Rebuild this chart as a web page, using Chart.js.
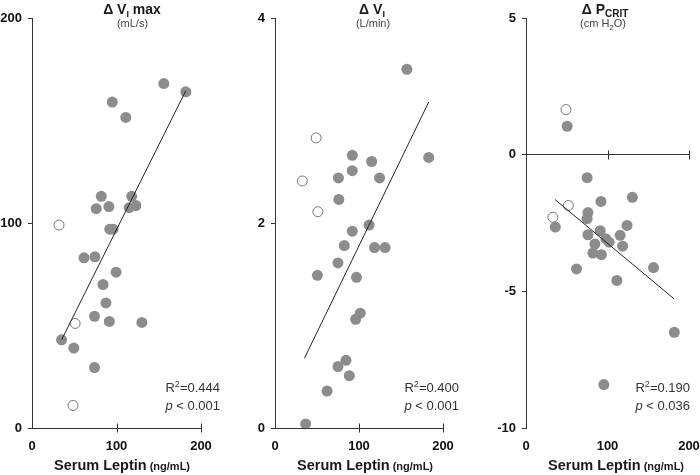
<!DOCTYPE html>
<html>
<head>
<meta charset="utf-8">
<script src="https://cdn.jsdelivr.net/npm/chart.js@4.4.0/dist/chart.umd.min.js"></script>
<style>
  body { margin: 0; background: #fff; }
  #wrap { position: relative; width: 700px; height: 475px; }
  canvas { position: absolute; top: 0; }
</style>
</head>
<body>
<div id="wrap">
  <canvas id="flowMax" width="230" height="475" style="left:0"></canvas>
  <canvas id="flowVol" width="230" height="475" style="left:230px"></canvas>
  <canvas id="pcrit" width="240" height="475" style="left:460px"></canvas>
</div>
<script>
// serum leptin (ng/mL) on every x axis
const leptinTicks = [0, 100, 200];

// panel 1: delta VI max (mL/s)
const vmaxTicks = [0, 100, 200];
const vmaxX = [156, 182, 95, 111, 82, 118, 76, 91, 115, 123, 92, 96, 61.5, 74.5, 99.5, 84, 87.5, 74, 91.5, 130, 35, 49.5, 74];
const vmaxY = [168, 164, 159, 151.5, 113, 113, 107, 108, 107.5, 108.5, 97, 97, 83, 83.5, 76, 70, 61, 54.5, 52, 51.5, 43, 39, 29.5];
const vmaxOpenX = [32, 51, 48.5];
const vmaxOpenY = [99, 51, 11];
const vmaxFitX = [35, 182];
const vmaxFitY = [43, 164.5];

// panel 2: delta VI (L/min)
const viTicks = [0, 2, 4];
const viX = [157, 183, 92, 115, 92, 75.5, 124.5, 76, 112, 92, 82.5, 118.5, 131, 75, 50.5, 97, 101.5, 96, 84.5, 75, 88.5, 62, 36.5];
const viY = [3.50, 2.64, 2.66, 2.60, 2.51, 2.44, 2.44, 2.23, 1.98, 1.92, 1.78, 1.76, 1.76, 1.61, 1.49, 1.47, 1.12, 1.06, 0.66, 0.60, 0.51, 0.36, 0.04];
const viOpenX = [49, 32.5, 51];
const viOpenY = [2.83, 2.41, 2.11];
const viFitX = [35, 183];
const viFitY = [0.68, 3.18];

// panel 3: delta Pcrit (cm H2O)
const pcritTicks = [-10, -5, 0, 5];
const pcritX = [50.5, 75, 130.5, 92, 76, 75, 36, 124, 91, 76, 115.5, 98, 102, 84.5, 118.5, 82, 92.5, 62, 156.5, 111.5, 182, 95.5];
const pcritY = [1.04, -0.84, -1.56, -1.71, -2.12, -2.34, -2.65, -2.59, -2.78, -2.93, -2.95, -3.08, -3.20, -3.27, -3.35, -3.60, -3.66, -4.18, -4.13, -4.60, -6.50, -8.41];
const pcritOpenX = [49, 52, 33];
const pcritOpenY = [1.65, -1.86, -2.29];
const pcritFitX = [35.5, 181.5];
const pcritFitY = [-1.64, -5.27];

const FONT = '"Liberation Sans", Arial, sans-serif';
Chart.defaults.font.family = FONT;
Chart.defaults.color = '#111';

function pts(xs, ys) {
  return xs.map((x, i) => ({ x: x, y: ys[i] }));
}

function drawRuns(ctx, runs, x, y, align) {
  let total = 0;
  runs.forEach(r => { ctx.font = r.f; r.w = ctx.measureText(r.t).width; total += r.w; });
  let cx = align === 'center' ? x - total / 2 : align === 'right' ? x - total : x;
  ctx.textAlign = 'left';
  ctx.textBaseline = 'alphabetic';
  runs.forEach(r => {
    ctx.font = r.f;
    ctx.fillText(r.t, cx, y + (r.dy || 0));
    cx += r.w;
  });
}

const panelText = {
  id: 'panelText',
  afterDraw(chart, args, o) {
    const ctx = chart.ctx;
    const area = chart.chartArea;
    const xs = chart.scales.x, ys = chart.scales.y;
    ctx.save();
    // crossing tick marks on the zero line
    const y0 = Math.round(ys.getPixelForValue(0)) + 0.5;
    ctx.strokeStyle = '#333';
    ctx.lineWidth = 1;
    leptinTicks.slice(1).forEach(v => {
      const px = Math.round(xs.getPixelForValue(v)) + 0.5;
      ctx.beginPath();
      ctx.moveTo(px, y0 - 5);
      ctx.lineTo(px, y0 + 4);
      ctx.stroke();
    });
    ctx.fillStyle = '#1a1a1a';
    drawRuns(ctx, o.title, o.titleX, 14, 'center');
    ctx.fillStyle = '#444';
    drawRuns(ctx, o.unit, o.unitX, 27, 'center');
    ctx.fillStyle = '#1a1a1a';
    drawRuns(ctx, [
      { t: 'Serum Leptin', f: 'bold 14.5px ' + FONT },
      { t: ' (ng/mL)', f: 'bold 11px ' + FONT }
    ], area.left + 22, 470, 'left');
    ctx.fillStyle = '#333';
    drawRuns(ctx, [
      { t: 'R', f: '13px ' + FONT },
      { t: '2', f: '9px ' + FONT, dy: -5 },
      { t: '=' + o.r2, f: '13px ' + FONT }
    ], o.statX, 392, 'right');
    drawRuns(ctx, [
      { t: 'p', f: 'italic 13px ' + FONT },
      { t: ' < ' + o.p, f: '13px ' + FONT }
    ], o.statX, 409.5, 'right');
    ctx.restore();
  }
};

function makePanel(id, cfg) {
  const ctx = document.getElementById(id).getContext('2d');
  return new Chart(ctx, {
    type: 'scatter',
    data: {
      datasets: [{
        type: 'line',
        data: pts(cfg.fitX, cfg.fitY),
        borderColor: '#222',
        borderWidth: 1,
        pointRadius: 0,
        fill: false
      }, {
        data: pts(cfg.x, cfg.y),
        backgroundColor: '#8c8c8c',
        borderWidth: 0,
        pointRadius: 5.5
      }, {
        data: pts(cfg.openX, cfg.openY),
        backgroundColor: '#fff',
        borderColor: '#777',
        borderWidth: 1,
        pointRadius: 5
      }]
    },
    options: {
      responsive: false,
      animation: false,
      devicePixelRatio: 1,
      events: [],
      layout: { padding: { top: 18, right: cfg.padRight, left: 0, bottom: 0 } },
      plugins: {
        legend: { display: false },
        tooltip: { enabled: false },
        panelText: cfg.text
      },
      scales: {
        x: {
          type: 'linear',
          min: 0,
          max: 200,
          afterBuildTicks: s => { s.ticks = leptinTicks.map(v => ({ value: v })); },
          border: { display: false },
          grid: { display: false, drawTicks: false },
          ticks: { padding: 11, font: { size: 13, weight: 'bold' }, color: '#111' },
          afterFit: s => { s.height = 47; s.paddingLeft = 0; s.paddingRight = 0; }
        },
        x2: {
          type: 'linear',
          min: 0,
          max: 200,
          position: { y: 0 },
          ticks: { display: false },
          grid: { drawOnChartArea: false, drawTicks: false },
          border: { color: '#333', width: 1 }
        },
        y: {
          type: 'linear',
          min: cfg.yTicks[0],
          max: cfg.yTicks[cfg.yTicks.length - 1],
          afterBuildTicks: s => { s.ticks = cfg.yTicks.map(v => ({ value: v })); },
          border: { color: '#333', width: 1 },
          grid: { drawOnChartArea: false, tickLength: 4, color: '#333' },
          ticks: { padding: 6, font: { size: 13, weight: 'bold' }, color: '#111' },
          afterFit: s => { s.width = cfg.yWidth; s.paddingTop = 0; s.paddingBottom = 0; }
        }
      }
    },
    plugins: [panelText]
  });
}

makePanel('flowMax', {
  x: vmaxX, y: vmaxY, openX: vmaxOpenX, openY: vmaxOpenY, fitX: vmaxFitX, fitY: vmaxFitY,
  yTicks: vmaxTicks, yWidth: 32, padRight: 29,
  text: {
    title: [
      { t: '\u0394 V', f: 'bold 14px ' + FONT },
      { t: 'I', f: 'bold 9px ' + FONT, dy: 3 },
      { t: ' max', f: 'bold 14px ' + FONT }
    ],
    titleX: 132,
    unit: [{ t: '(mL/s)', f: '11px ' + FONT }],
    unitX: 132.5,
    r2: '0.444', p: '0.001', statX: 220
  }
});

makePanel('flowVol', {
  x: viX, y: viY, openX: viOpenX, openY: viOpenY, fitX: viFitX, fitY: viFitY,
  yTicks: viTicks, yWidth: 45, padRight: 17,
  text: {
    title: [
      { t: '\u0394 V', f: 'bold 14px ' + FONT },
      { t: 'I', f: 'bold 9px ' + FONT, dy: 3 }
    ],
    titleX: 142,
    unit: [{ t: '(L/min)', f: '11px ' + FONT }],
    unitX: 143,
    r2: '0.400', p: '0.001', statX: 229
  }
});

makePanel('pcrit', {
  x: pcritX, y: pcritY, openX: pcritOpenX, openY: pcritOpenY, fitX: pcritFitX, fitY: pcritFitY,
  yTicks: pcritTicks, yWidth: 66, padRight: 11,
  text: {
    title: [
      { t: '\u0394 P', f: 'bold 14px ' + FONT },
      { t: 'CRIT', f: 'bold 10px ' + FONT, dy: 3 }
    ],
    titleX: 145,
    unit: [
      { t: '(cm H', f: '11px ' + FONT },
      { t: '2', f: '8px ' + FONT, dy: 3 },
      { t: 'O)', f: '11px ' + FONT }
    ],
    unitX: 143,
    r2: '0.190', p: '0.036', statX: 230
  }
});
</script>
</body>
</html>
